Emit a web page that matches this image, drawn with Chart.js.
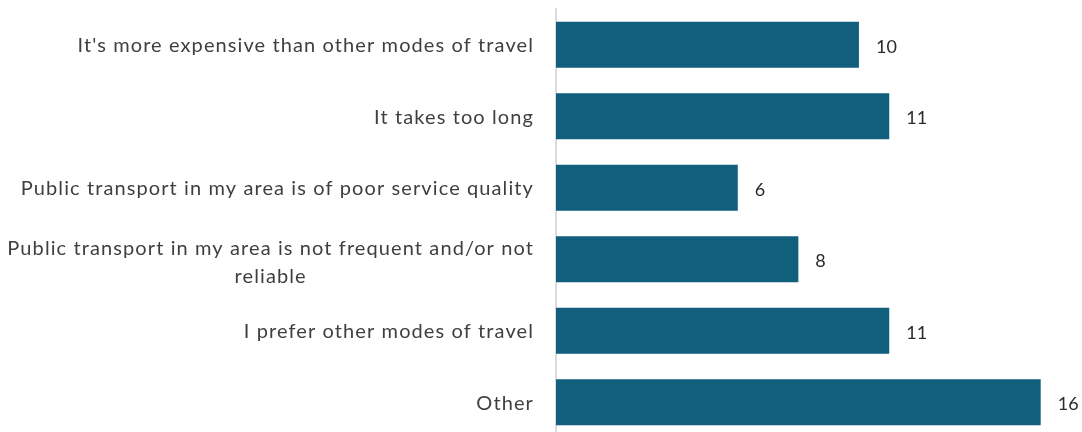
<!DOCTYPE html>
<html>
<head>
<meta charset="utf-8">
<script src="https://cdn.jsdelivr.net/npm/chart.js@4"></script>
<style>
  html, body { margin: 0; padding: 0; background: #fff; overflow: hidden; }
  #wrap { width: 1082px; height: 440px; position: relative; }
</style>
</head>
<body>
<div id="wrap"><canvas id="reasonsChart"></canvas></div>
<script>
const reasons = [
  "It's more expensive than other modes of travel",
  "It takes too long",
  "Public transport in my area is of poor service quality",
  ["Public transport in my area is not frequent and/or not", "reliable"],
  "I prefer other modes of travel",
  "Other",
];
const counts = [10, 11, 6, 8, 11, 16];
const xMax = 17;

const BAR_COLOR = "#115e7d";
const TEXT_COLOR = "#3f3f3f";
const LABEL_FONT = "20px Lato, 'Open Sans', sans-serif";

// Category labels: right-aligned block, multi-line labels centred within it
const categoryLabels = {
  id: "categoryLabels",
  afterDraw(chart) {
    const ctx = chart.ctx;
    const yScale = chart.scales.y;
    const right = chart.chartArea.left - 22;
    ctx.save();
    ctx.font = LABEL_FONT;
    ctx.letterSpacing = "1.1px";
    ctx.fillStyle = TEXT_COLOR;
    ctx.textBaseline = "middle";
    ctx.textAlign = "center";
    reasons.forEach((label, i) => {
      const lines = Array.isArray(label) ? label : [label];
      const widths = lines.map((l) => ctx.measureText(l).width);
      const blockW = Math.max(...widths);
      const cx = right - blockW / 2;
      const lineH = 28;
      const shift = lines.length > 1 ? 3 : 1;
      const y0 = yScale.getPixelForTick(i) + shift - ((lines.length - 1) * lineH) / 2;
      lines.forEach((l, j) => ctx.fillText(l, cx, y0 + j * lineH));
    });
    ctx.restore();
  },
};

// Value labels at the end of each bar
const valueLabels = {
  id: "valueLabels",
  afterDatasetsDraw(chart) {
    const ctx = chart.ctx;
    const meta = chart.getDatasetMeta(0);
    ctx.save();
    ctx.font = "18px Lato, 'Open Sans', sans-serif";
    ctx.fillStyle = "#2b2b2b";
    ctx.textBaseline = "middle";
    ctx.textAlign = "left";
    meta.data.forEach((bar, i) => {
      ctx.fillText(String(counts[i]), bar.x + 17, bar.y + 2);
    });
    ctx.restore();
  },
};

window.onload = function () {
  const ctx = document.getElementById("reasonsChart").getContext("2d");
  new Chart(ctx, {
    type: "bar",
    data: {
      labels: reasons,
      datasets: [
        {
          data: counts,
          backgroundColor: BAR_COLOR,
          borderWidth: 0,
          barPercentage: 0.8,
          categoryPercentage: 0.805,
        },
      ],
    },
    options: {
      indexAxis: "y",
      responsive: true,
      maintainAspectRatio: false,
      animation: false,
      layout: { padding: { left: 556, right: 11, top: 9, bottom: 2 } },
      scales: {
        x: {
          min: 0,
          max: xMax,
          display: false,
        },
        y: {
          grid: { display: false, drawTicks: false },
          border: { display: true, color: "#d8dbe2", width: 2 },
          ticks: { display: false },
        },
      },
      plugins: {
        legend: { display: false },
        tooltip: { enabled: false },
      },
    },
    plugins: [categoryLabels, valueLabels],
  });
};
</script>
</body>
</html>
